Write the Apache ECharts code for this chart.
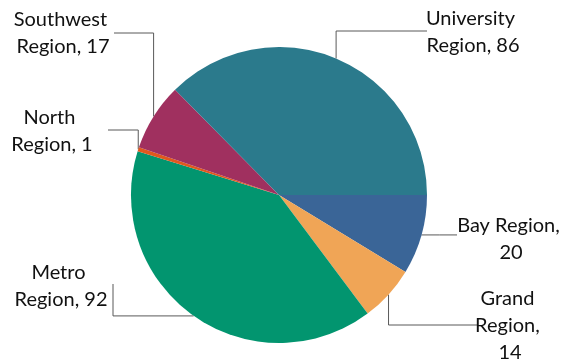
<!DOCTYPE html>
<html>
<head>
<meta charset="utf-8">
<script src="https://cdn.jsdelivr.net/npm/echarts@6/dist/echarts.min.js"></script>
<style>
  html, body { margin: 0; padding: 0; background: #ffffff; }
  #chart { width: 577px; height: 360px; }
</style>
</head>
<body>
<div id="chart"></div>
<script>
// Regions, listed clockwise from the 3 o'clock position
var regions = ['Bay Region', 'Grand Region', 'Metro Region', 'North Region', 'Southwest Region', 'University Region'];
var counts = [20, 14, 92, 1, 17, 86];
var colors = ['#3a6597', '#f0a556', '#02956f', '#e0581e', '#a0305f', '#2b7a8c'];

// Label placement: text centre, wrap width, leader end point and elbow direction
var labelSpots = {
  'Bay Region':        { x: 511, y: 239, w: 110, end: [457, null], elbow: 'none' },
  'Grand Region':      { x: 510, y: 326, w: 72,  end: [477, 325],  elbow: 'vertical' },
  'Metro Region':      { x: 61,  y: 286, w: 110, end: [113, 284],  elbow: 'horizontal' },
  'North Region':      { x: 52,  y: 131, w: 100, end: [108, 130],  elbow: 'vertical' },
  'Southwest Region':  { x: 63,  y: 33,  w: 110, end: [114, 33],   elbow: 'vertical' },
  'University Region': { x: 473, y: 32,  w: 110, end: [427, 31],   elbow: 'vertical' }
};

var chart = echarts.init(document.getElementById('chart'), null, { renderer: 'canvas' });

var pieData = regions.map(function (name, i) {
  var spot = labelSpots[name];
  return {
    name: name,
    value: counts[i],
    itemStyle: { color: colors[i] },
    label: { width: spot.w }
  };
});

chart.setOption({
  animation: false,
  backgroundColor: '#ffffff',
  series: [{
    type: 'pie',
    center: [279, 195],
    radius: 148,
    startAngle: 0,
    clockwise: true,
    avoidLabelOverlap: false,
    data: pieData,
    itemStyle: { borderWidth: 0 },
    emphasis: { disabled: true },
    label: {
      show: true,
      position: 'outside',
      formatter: '{b}, {c}',
      fontFamily: 'Lato',
      fontSize: 20,
      lineHeight: 27,
      color: '#111111',
      overflow: 'break',
      align: 'center'
    },
    labelLine: {
      show: true,
      length: 10,
      length2: 10,
      lineStyle: { color: '#595959', width: 1 }
    },
    labelLayout: function (params) {
      var name = regions[params.dataIndex];
      var spot = labelSpots[name];
      var a = params.labelLinePoints ? params.labelLinePoints[0] : [spot.x, spot.y];
      var endY = spot.end[1] == null ? a[1] : spot.end[1];
      var end = [spot.end[0], endY];
      var pts;
      if (spot.elbow === 'vertical') {
        pts = [a, [a[0], end[1]], end];
      } else if (spot.elbow === 'horizontal') {
        pts = [a, [end[0], a[1]], end];
      } else {
        pts = [a, [(a[0] + end[0]) / 2, a[1]], end];
      }
      return {
        x: spot.x,
        y: spot.y,
        align: 'center',
        verticalAlign: 'middle',
        labelLinePoints: pts
      };
    }
  }]
});
</script>
</body>
</html>
